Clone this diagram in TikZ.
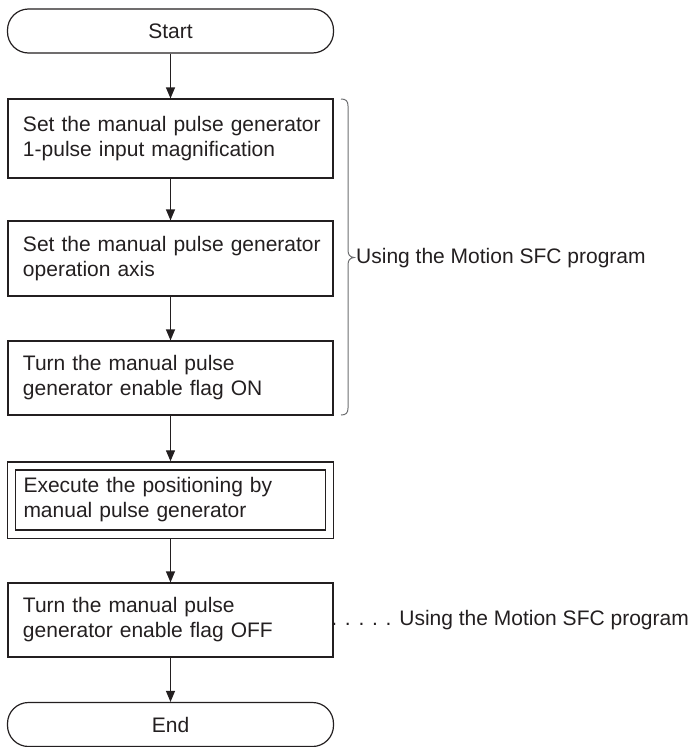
\documentclass[tikz,border=0pt]{standalone}
\usepackage{fontspec}
\setmainfont{Liberation Sans}
\usetikzlibrary{arrows.meta,fit}
\definecolor{ink}{HTML}{231F20}
\definecolor{bracec}{HTML}{6D6E70}
\begin{document}
\begin{tikzpicture}[x=1pt,y=-1pt,
  every node/.style={font=\fontsize{21}{25}\selectfont, text=ink},
  term/.style={draw=ink, line width=1.2pt, rounded corners=21pt, minimum width=326pt, minimum height=44pt, inner sep=0pt},
  proc/.style={draw=ink, line width=1.2pt, minimum width=325pt, text width=295pt, inner xsep=15pt, inner ysep=0pt, align=left},
  flow/.style={draw=ink, line width=1.2pt, -{Triangle[length=11pt,width=9pt]}},
  lbl/.style={inner sep=0pt}
]
\useasboundingbox (0,0) rectangle (692,747);
\node[term] (start) at (170.5,31) {Start};
\node[proc, minimum height=79pt] (b1) at (170.5,138.5) {\mbox{Set the manual pulse generator}\\\mbox{1-pulse input magnification}};
\node[proc, minimum height=75pt] (b2) at (170.5,258.5) {\mbox{Set the manual pulse generator}\\operation axis};
\node[proc, minimum height=74pt] (b3) at (170.5,378) {Turn the manual pulse\\generator enable flag ON};
\node[proc, minimum width=310pt, text width=294pt, inner xsep=8pt, minimum height=60pt] (b4in) at (170.5,500) {Execute the positioning by\\manual pulse generator};
\node[draw=ink, line width=1.2pt, fit=(b4in), inner sep=7.5pt] (b4) {};
\node[proc, minimum height=74pt] (b5) at (170.5,620) {Turn the manual pulse\\generator enable flag OFF};
\node[term] (end) at (170.5,724.5) {End};

\draw[flow] (start) -- (b1);
\draw[flow] (b1) -- (b2);
\draw[flow] (b2) -- (b3);
\draw[flow] (b3) -- (b4);
\draw[flow] (b4) -- (b5);
\draw[flow] (b5) -- (end);

\draw[draw=bracec, line width=1pt] (341,99) .. controls (346,99) and (348,101) .. (348,106) -- (348,250) .. controls (348,255) and (350,257) .. (354,257.5) .. controls (350,258) and (348,260) .. (348,265) -- (348,408) .. controls (348,413) and (346,415) .. (341,415);

\node[lbl, anchor=west] (lab1) at (356,258) {Using the Motion SFC program};
\node[lbl, anchor=east] (lab2) at (689,620) {. . . . . Using the Motion SFC program};
\end{tikzpicture}
\end{document}
